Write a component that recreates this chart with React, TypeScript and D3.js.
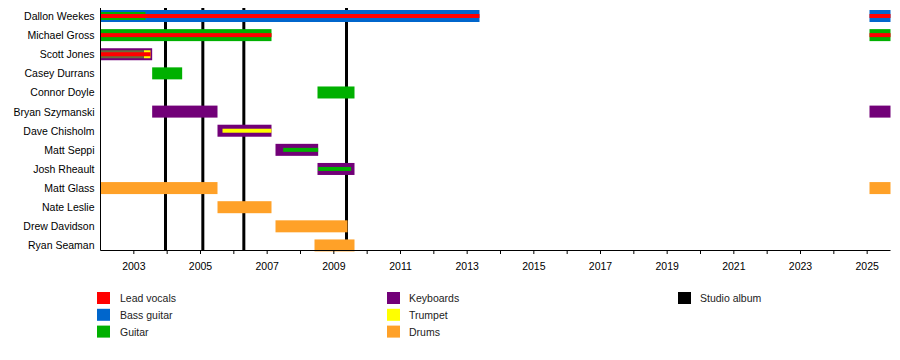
import React from "react";
import * as d3 from "d3";

const members = [
  "Dallon Weekes",
  "Michael Gross",
  "Scott Jones",
  "Casey Durrans",
  "Connor Doyle",
  "Bryan Szymanski",
  "Dave Chisholm",
  "Matt Seppi",
  "Josh Rheault",
  "Matt Glass",
  "Nate Leslie",
  "Drew Davidson",
  "Ryan Seaman",
];

const instruments = ["Lead vocals", "Bass guitar", "Guitar", "Keyboards", "Trumpet", "Drums", "Studio album", "Mixed"];
const instrumentColors = ["#ff0000", "#0066cc", "#00b000", "#720078", "#ffff00", "#ffa128", "#000000", "#6b6b3c"];
const legendInstruments = ["Lead vocals", "Bass guitar", "Guitar", "Keyboards", "Trumpet", "Drums", "Studio album"];

const START = 2002;
const END = 2025.7;

// [member, instrument, start, end, layer(0 full / 1 mid / 2 thin)]
const periods: [string, string, number, number, number][] = [
  ["Dallon Weekes", "Bass guitar", 2002, 2013.37, 0],
  ["Dallon Weekes", "Guitar", 2002, 2003.35, 1],
  ["Dallon Weekes", "Lead vocals", 2002, 2013.37, 2],
  ["Dallon Weekes", "Bass guitar", 2025.07, END, 0],
  ["Dallon Weekes", "Lead vocals", 2025.07, END, 2],
  ["Michael Gross", "Guitar", 2002, 2007.13, 0],
  ["Michael Gross", "Lead vocals", 2002, 2007.13, 2],
  ["Michael Gross", "Guitar", 2025.07, END, 0],
  ["Michael Gross", "Lead vocals", 2025.07, END, 2],
  ["Scott Jones", "Keyboards", 2002, 2003.55, 0],
  ["Scott Jones", "Trumpet", 2003.3, 2003.5, 1],
  ["Scott Jones", "Mixed", 2002, 2003.3, 1],
  ["Scott Jones", "Lead vocals", 2002, 2003.5, 2],
  ["Casey Durrans", "Guitar", 2003.55, 2004.45, 0],
  ["Connor Doyle", "Guitar", 2008.51, 2009.62, 0],
  ["Bryan Szymanski", "Keyboards", 2003.55, 2005.51, 0],
  ["Bryan Szymanski", "Keyboards", 2025.07, END, 0],
  ["Dave Chisholm", "Keyboards", 2005.51, 2007.13, 0],
  ["Dave Chisholm", "Trumpet", 2005.66, 2007.13, 2],
  ["Matt Seppi", "Keyboards", 2007.25, 2008.53, 0],
  ["Matt Seppi", "Guitar", 2007.48, 2008.53, 2],
  ["Josh Rheault", "Keyboards", 2008.51, 2009.62, 0],
  ["Josh Rheault", "Guitar", 2008.53, 2009.52, 2],
  ["Matt Glass", "Drums", 2002, 2005.51, 0],
  ["Matt Glass", "Drums", 2025.07, END, 0],
  ["Nate Leslie", "Drums", 2005.51, 2007.13, 0],
  ["Drew Davidson", "Drums", 2007.25, 2009.41, 0],
  ["Ryan Seaman", "Drums", 2008.42, 2009.62, 0],
];

const albums = [2003.95, 2005.07, 2006.3, 2009.38];

const tickYears = d3.range(2003, 2026);
const labelYears = d3.range(2003, 2026, 2);

const W = 900;
const H = 360;
const FONT = "'Liberation Sans', Arial, Helvetica, sans-serif";

export default function App() {
  const x = d3.scaleLinear().domain([START, END]).range([100.5, 890.5]);
  const y = d3
    .scalePoint<string>()
    .domain(members)
    .range([16, 16 + 19.12 * (members.length - 1)]);
  const color = d3.scaleOrdinal<string, string>().domain(instruments).range(instrumentColors);
  const layerH = [12, 8, 4];
  const axisY = 250.5;
  const top = 8;

  const legendCols = [
    { sx: 97, tx: 120 },
    { sx: 387, tx: 409 },
    { sx: 678, tx: 700 },
  ];

  return (
    <svg
      width={W}
      height={H}
      style={{ position: "absolute", left: 0, top: 0, background: "#fff" }}
      fontFamily={FONT}
    >
      <rect width={W} height={H} fill="#fff" />
      {albums.map((a, i) => (
        <line key={"al" + i} x1={x(a)} x2={x(a)} y1={top} y2={axisY} stroke="#000" strokeWidth={3} />
      ))}
      {periods.map(([m, inst, s, e, layer], i) => {
        const h = layerH[layer];
        return (
          <rect
            key={"b" + i}
            x={x(s)}
            width={x(e) - x(s)}
            y={(y(m) as number) - h / 2}
            height={h}
            fill={color(inst)}
          />
        );
      })}
      <line x1={100.5} x2={100.5} y1={top} y2={axisY} stroke="#000" strokeWidth={1} />
      <line x1={100.5} x2={x(END)} y1={axisY} y2={axisY} stroke="#000" strokeWidth={1} />
      {tickYears.map((t) => (
        <line key={"t" + t} x1={x(t)} x2={x(t)} y1={axisY} y2={axisY + 3.5} stroke="#000" strokeWidth={1} />
      ))}
      {labelYears.map((t) => (
        <text key={"l" + t} x={x(t)} y={270} fontSize={10.5} textAnchor="middle" fill="#000">
          {t}
        </text>
      ))}
      {members.map((m) => (
        <text key={m} x={94.5} y={(y(m) as number) + 4} fontSize={10.5} textAnchor="end" fill="#000">
          {m}
        </text>
      ))}
      {legendInstruments.map((inst, i) => {
        const col = legendCols[Math.floor(i / 3)];
        const row = i % 3;
        const cy = 298 + row * 16.8;
        return (
          <g key={"lg" + inst}>
            <rect x={col.sx} y={cy - 6} width={13} height={12} fill={color(inst)} />
            <text x={col.tx} y={cy + 4} fontSize={10.5} fill="#222">
              {inst}
            </text>
          </g>
        );
      })}
    </svg>
  );
}
